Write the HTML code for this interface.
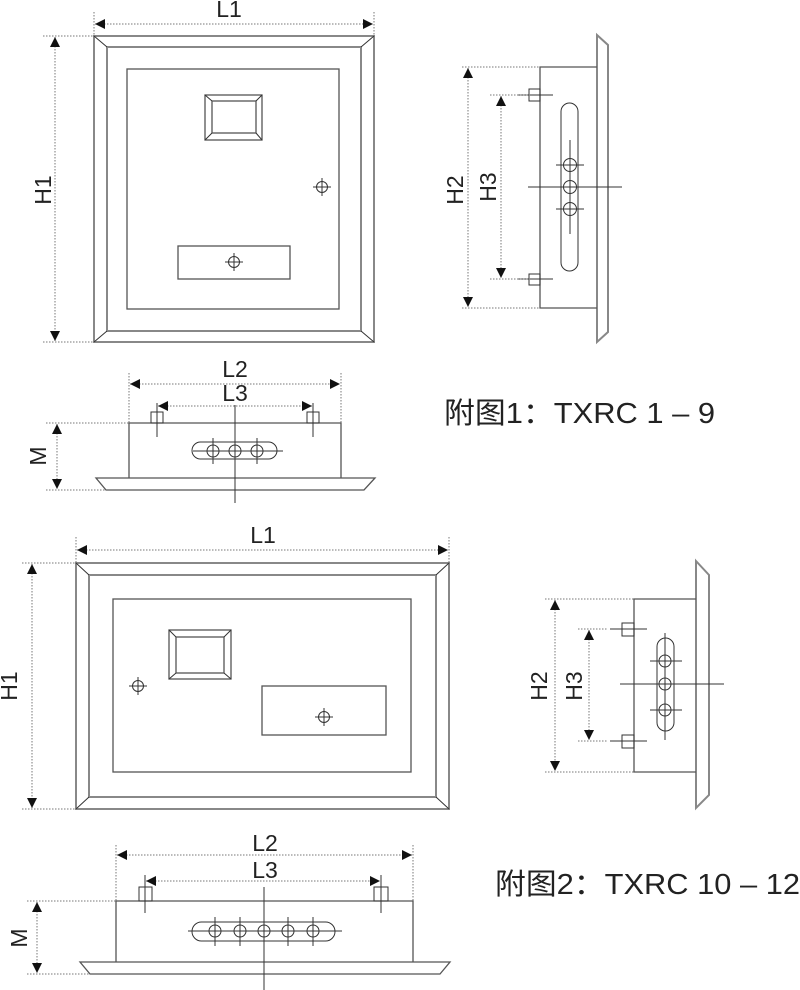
<!DOCTYPE html>
<html><head><meta charset="utf-8"><style>
html,body{margin:0;padding:0;background:#fff;}
svg{display:block;}
text{font-family:"Liberation Sans","Noto Sans CJK SC",sans-serif;fill:#222;}
.o{fill:none;stroke:#555;stroke-width:1.3}
.g{fill:none;stroke:#888;stroke-width:2}
.t{fill:none;stroke:#333;stroke-width:1}
.d{fill:none;stroke:#777;stroke-width:1;stroke-dasharray:1.5 1.5}
</style></head><body>
<svg width="800" height="990" viewBox="0 0 800 990" xmlns="http://www.w3.org/2000/svg">
<defs>
<marker id="a" viewBox="0 0 10 10" refX="10" refY="5" markerWidth="10" markerHeight="10" markerUnits="userSpaceOnUse" orient="auto-start-reverse"><path d="M0,0 L10,5 L0,10 z" fill="#111"/></marker>
<g id="ch"><circle r="5.5" class="t" cx="0" cy="0"/><line x1="-9" y1="0" x2="9" y2="0" class="t"/><line x1="0" y1="-9" x2="0" y2="9" class="t"/></g>
</defs>

<!-- FIG 1 FRONT -->
<rect x="94" y="36" width="280" height="306" class="g"/>
<rect x="107" y="47" width="254" height="284" class="g"/>
<path d="M94,36 L107,47 M374,36 L361,47 M94,342 L107,331 M374,342 L361,331" class="t"/>
<rect x="127" y="69" width="212" height="240" class="o"/>
<rect x="205" y="95" width="57" height="45" class="o"/>
<rect x="212" y="101" width="44" height="32" class="o"/>
<path d="M205,95 L212,101 M262,95 L256,101 M205,140 L212,133 M262,140 L256,133" class="t"/>
<use href="#ch" x="322" y="187"/>
<rect x="178" y="246" width="112" height="33" class="o"/>
<use href="#ch" x="234" y="262"/>
<line x1="94" y1="12" x2="94" y2="36" class="d"/><line x1="374" y1="12" x2="374" y2="36" class="d"/>
<line x1="95" y1="24" x2="373" y2="24" class="d" marker-start="url(#a)" marker-end="url(#a)"/>
<text x="229" y="17" font-size="23" text-anchor="middle">L1</text>
<line x1="43" y1="36" x2="94" y2="36" class="d"/><line x1="43" y1="342" x2="94" y2="342" class="d"/>
<line x1="55" y1="37" x2="55" y2="341" class="d" marker-start="url(#a)" marker-end="url(#a)"/>
<text x="0" y="0" font-size="23" text-anchor="middle" transform="translate(51,190) rotate(-90)">H1</text>

<!-- FIG 1 SIDE -->
<path d="M597,35 L608,45 L608,332 L597,342 Z" class="g"/>
<path d="M597,67 L540,67 L540,308 L597,308" class="o"/>
<rect x="529" y="89" width="11" height="12" class="t"/><line x1="518" y1="95" x2="553" y2="95" class="t"/>
<rect x="529" y="274" width="11" height="11" class="t"/><line x1="518" y1="279" x2="553" y2="279" class="t"/>
<rect x="561" y="103" width="17" height="168" rx="8.5" class="t"/>
<circle cx="570" cy="165" r="6.5" class="t"/><circle cx="570" cy="187" r="6.5" class="t"/><circle cx="570" cy="209" r="6.5" class="t"/>
<line x1="556" y1="165" x2="584" y2="165" class="t"/><line x1="556" y1="209" x2="584" y2="209" class="t"/>
<line x1="528" y1="187" x2="622" y2="187" class="t"/><line x1="570" y1="140" x2="570" y2="234" class="t"/>
<line x1="462" y1="67" x2="540" y2="67" class="d"/><line x1="462" y1="308" x2="540" y2="308" class="d"/>
<line x1="468" y1="68" x2="468" y2="307" class="d" marker-start="url(#a)" marker-end="url(#a)"/>
<line x1="490" y1="95" x2="530" y2="95" class="d"/><line x1="490" y1="279" x2="530" y2="279" class="d"/>
<line x1="501" y1="96" x2="501" y2="278" class="d" marker-start="url(#a)" marker-end="url(#a)"/>
<text x="0" y="0" font-size="23" text-anchor="middle" transform="translate(463,190) rotate(-90)">H2</text>
<text x="0" y="0" font-size="23" text-anchor="middle" transform="translate(496,187) rotate(-90)">H3</text>

<!-- FIG 1 BOTTOM -->
<path d="M129,478 L129,423 L341,423 L341,478" class="o"/>
<path d="M96,478 L375,478 L364,490 L106,490 Z" class="o"/>
<rect x="151" y="412" width="12" height="11" class="t"/><line x1="157" y1="403" x2="157" y2="437" class="t"/>
<rect x="307" y="412" width="12" height="11" class="t"/><line x1="313" y1="403" x2="313" y2="437" class="t"/>
<line x1="129" y1="373" x2="129" y2="423" class="d"/><line x1="341" y1="373" x2="341" y2="423" class="d"/>
<line x1="130" y1="384" x2="340" y2="384" class="d" marker-start="url(#a)" marker-end="url(#a)"/>
<line x1="158" y1="406" x2="312" y2="406" class="d" marker-start="url(#a)" marker-end="url(#a)"/>
<text x="235" y="377" font-size="23" text-anchor="middle">L2</text>
<text x="235" y="401" font-size="23" text-anchor="middle">L3</text>
<line x1="235" y1="405" x2="235" y2="503" class="t"/>
<rect x="192" y="442" width="85" height="17" rx="8.5" class="t"/>
<circle cx="213" cy="451" r="6" class="t"/><circle cx="235" cy="451" r="6" class="t"/><circle cx="257" cy="451" r="6" class="t"/>
<line x1="193" y1="451" x2="283" y2="451" class="t"/>
<line x1="213" y1="438" x2="213" y2="464" class="t"/><line x1="257" y1="438" x2="257" y2="464" class="t"/>
<line x1="46" y1="423" x2="129" y2="423" class="d"/><line x1="46" y1="490" x2="106" y2="490" class="d"/>
<line x1="57" y1="424" x2="57" y2="489" class="d" marker-start="url(#a)" marker-end="url(#a)"/>
<text x="0" y="0" font-size="23" text-anchor="middle" transform="translate(46,456) rotate(-90)">M</text>

<text x="444" y="423" font-size="29" textLength="271" lengthAdjust="spacingAndGlyphs">附图1：TXRC 1 – 9</text>

<!-- FIG 2 FRONT -->
<rect x="76" y="563" width="373" height="246" class="g"/>
<rect x="89" y="575" width="347" height="222" class="g"/>
<path d="M76,563 L89,575 M449,563 L436,575 M76,809 L89,797 M449,809 L436,797" class="t"/>
<rect x="113" y="599" width="298" height="173" class="o"/>
<rect x="169" y="630" width="62" height="49" class="o"/>
<rect x="176" y="637" width="48" height="36" class="o"/>
<path d="M169,630 L176,637 M231,630 L224,637 M169,679 L176,673 M231,679 L224,673" class="t"/>
<use href="#ch" x="138" y="686"/>
<rect x="262" y="686" width="124" height="49" class="o"/>
<use href="#ch" x="324" y="717"/>
<line x1="76" y1="537" x2="76" y2="563" class="d"/><line x1="449" y1="537" x2="449" y2="563" class="d"/>
<line x1="77" y1="550" x2="448" y2="550" class="d" marker-start="url(#a)" marker-end="url(#a)"/>
<text x="263" y="543" font-size="23" text-anchor="middle">L1</text>
<line x1="22" y1="563" x2="76" y2="563" class="d"/><line x1="22" y1="809" x2="76" y2="809" class="d"/>
<line x1="32" y1="564" x2="32" y2="808" class="d" marker-start="url(#a)" marker-end="url(#a)"/>
<text x="0" y="0" font-size="23" text-anchor="middle" transform="translate(17,686) rotate(-90)">H1</text>

<!-- FIG 2 SIDE -->
<path d="M696,561 L709,575 L709,795 L696,808 Z" class="g"/>
<path d="M696,599 L634,599 L634,772 L696,772" class="o"/>
<rect x="622" y="623" width="12" height="13" class="t"/><line x1="610" y1="629" x2="647" y2="629" class="t"/>
<rect x="622" y="735" width="12" height="13" class="t"/><line x1="610" y1="741" x2="647" y2="741" class="t"/>
<rect x="657" y="638" width="17" height="93" rx="8.5" class="t"/>
<circle cx="665" cy="661" r="6" class="t"/><circle cx="665" cy="684" r="6" class="t"/><circle cx="665" cy="710" r="6" class="t"/>
<line x1="650" y1="661" x2="682" y2="661" class="t"/><line x1="650" y1="710" x2="682" y2="710" class="t"/>
<line x1="620" y1="684" x2="724" y2="684" class="t"/><line x1="665" y1="633" x2="665" y2="740" class="t"/>
<line x1="545" y1="599" x2="634" y2="599" class="d"/><line x1="545" y1="772" x2="634" y2="772" class="d"/>
<line x1="555" y1="600" x2="555" y2="771" class="d" marker-start="url(#a)" marker-end="url(#a)"/>
<line x1="578" y1="629" x2="608" y2="629" class="d"/><line x1="578" y1="741" x2="608" y2="741" class="d"/>
<line x1="589" y1="630" x2="589" y2="740" class="d" marker-start="url(#a)" marker-end="url(#a)"/>
<text x="0" y="0" font-size="23" text-anchor="middle" transform="translate(547,686) rotate(-90)">H2</text>
<text x="0" y="0" font-size="23" text-anchor="middle" transform="translate(582,686) rotate(-90)">H3</text>

<!-- FIG 2 BOTTOM -->
<path d="M116,962 L116,901 L413,901 L413,962" class="o"/>
<path d="M80,962 L450,962 L440,974 L90,974 Z" class="o"/>
<rect x="139" y="887" width="13" height="14" class="t"/><line x1="145" y1="875" x2="145" y2="913" class="t"/>
<rect x="374" y="887" width="14" height="14" class="t"/><line x1="381" y1="875" x2="381" y2="913" class="t"/>
<line x1="116" y1="845" x2="116" y2="901" class="d"/><line x1="413" y1="845" x2="413" y2="901" class="d"/>
<line x1="117" y1="855" x2="412" y2="855" class="d" marker-start="url(#a)" marker-end="url(#a)"/>
<line x1="146" y1="881" x2="380" y2="881" class="d" marker-start="url(#a)" marker-end="url(#a)"/>
<text x="265" y="851" font-size="23" text-anchor="middle">L2</text>
<text x="265" y="878" font-size="23" text-anchor="middle">L3</text>
<line x1="264" y1="887" x2="264" y2="990" class="t"/>
<rect x="192" y="922" width="143" height="19" rx="9.5" class="t"/>
<circle cx="215" cy="931" r="6" class="t"/><circle cx="240" cy="931" r="6" class="t"/><circle cx="264" cy="931" r="6" class="t"/><circle cx="288" cy="931" r="6" class="t"/><circle cx="313" cy="931" r="6" class="t"/>
<line x1="188" y1="931" x2="342" y2="931" class="t"/>
<line x1="215" y1="917" x2="215" y2="946" class="t"/><line x1="240" y1="917" x2="240" y2="946" class="t"/><line x1="288" y1="917" x2="288" y2="946" class="t"/><line x1="313" y1="917" x2="313" y2="946" class="t"/>
<line x1="27" y1="901" x2="116" y2="901" class="d"/><line x1="27" y1="974" x2="90" y2="974" class="d"/>
<line x1="37" y1="902" x2="37" y2="973" class="d" marker-start="url(#a)" marker-end="url(#a)"/>
<text x="0" y="0" font-size="23" text-anchor="middle" transform="translate(27,938) rotate(-90)">M</text>

<text x="495" y="894" font-size="29" textLength="305" lengthAdjust="spacingAndGlyphs">附图2：TXRC 10 – 12</text>
</svg>
</body></html>
